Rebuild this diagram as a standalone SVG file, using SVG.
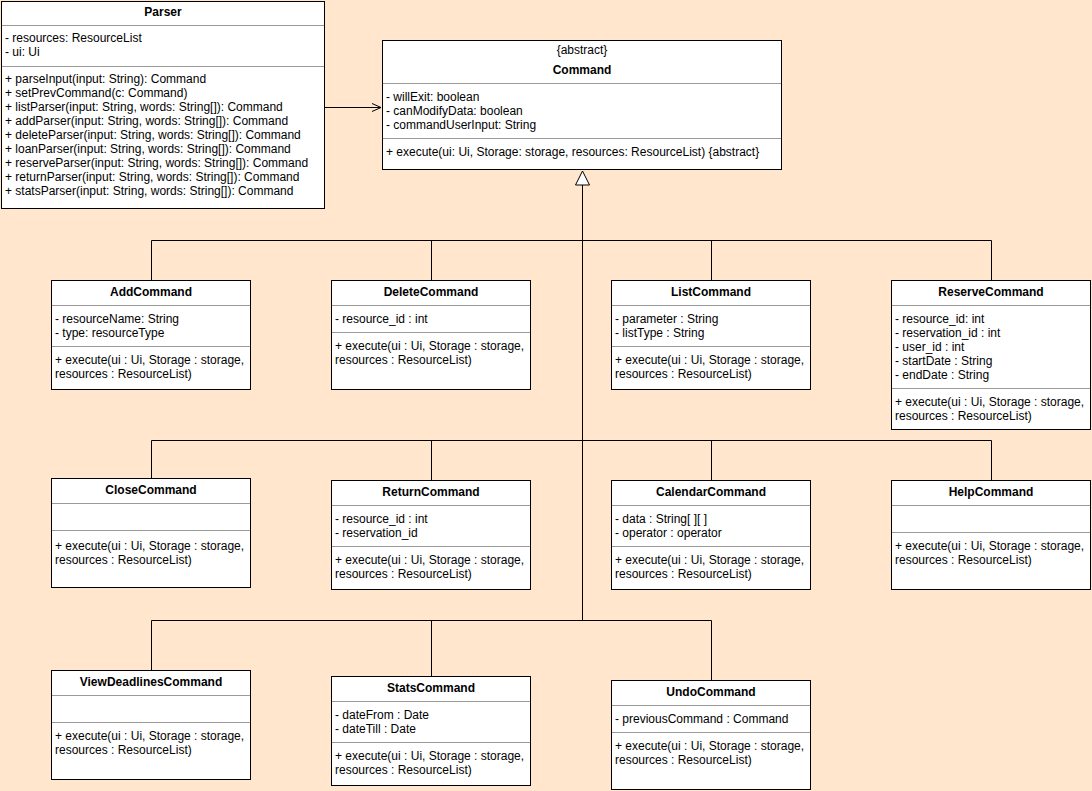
<svg xmlns="http://www.w3.org/2000/svg" width="1092" height="791" viewBox="0 0 1092 791">
<defs>
<style>
.bx{fill:#fff;stroke:#000;stroke-width:1}
.sep{stroke:#9a9a9a;stroke-width:1}
text{font-family:"Liberation Sans",Arial,Helvetica,sans-serif;font-size:12px;fill:#000}
.t{font-weight:bold;text-anchor:middle}
.c{text-anchor:middle}
.ln{fill:none;stroke:#000;stroke-width:1}
</style>
<marker id="open" markerWidth="12" markerHeight="10" refX="10" refY="5" orient="auto" markerUnits="userSpaceOnUse">
<path d="M1,1 L10,5 L1,9" fill="none" stroke="#000" stroke-width="1"/>
</marker>
</defs>
<rect x="0" y="0" width="1092" height="791" fill="#FFE6CC"/>

<g id="connectors">
<line class="ln" x1="325" y1="107.5" x2="381" y2="107.5" marker-end="url(#open)"/>
<path class="ln" d="M582.5,185 V620"/>
<path d="M582.5,171 L589.5,185 L575.5,185 Z" fill="#fff" stroke="#000" stroke-width="1"/>
<path class="ln" d="M151.5,280 V240.5 H991.5 V280 M431.5,240.5 V280 M711.5,240.5 V280"/>
<path class="ln" d="M151.5,478 V440.5 H991.5 V480 M431.5,440.5 V480 M711.5,440.5 V480"/>
<path class="ln" d="M151.5,670 V620.5 H711.5 V680 M431.5,620.5 V676"/>
</g>

<g id="Parser">
<rect class="bx" x="1.5" y="1.5" width="323" height="207"/>
<text class="t" x="163" y="16">Parser</text>
<line class="sep" x1="2" y1="25.5" x2="324" y2="25.5"/>
<text x="5" y="42">- resources: ResourceList</text>
<text x="5" y="56">- ui: Ui</text>
<line class="sep" x1="2" y1="66.5" x2="324" y2="66.5"/>
<text x="5" y="83">+ parseInput(input: String): Command</text>
<text x="5" y="97">+ setPrevCommand(c: Command)</text>
<text x="5" y="111">+ listParser(input: String, words: String[]): Command</text>
<text x="5" y="125">+ addParser(input: String, words: String[]): Command</text>
<text x="5" y="139">+ deleteParser(input: String, words: String[]): Command</text>
<text x="5" y="153">+ loanParser(input: String, words: String[]): Command</text>
<text x="5" y="167">+ reserveParser(input: String, words: String[]): Command</text>
<text x="5" y="181">+ returnParser(input: String, words: String[]): Command</text>
<text x="5" y="195">+ statsParser(input: String, words: String[]): Command</text>
</g>

<g id="Command">
<rect class="bx" x="382.5" y="40.5" width="399" height="129"/>
<text class="c" x="582" y="54">{abstract}</text>
<text class="t" x="582" y="74">Command</text>
<line class="sep" x1="383" y1="83.5" x2="781" y2="83.5"/>
<text x="386" y="101">- willExit: boolean</text>
<text x="386" y="115">- canModifyData: boolean</text>
<text x="386" y="129">- commandUserInput: String</text>
<line class="sep" x1="383" y1="138.5" x2="781" y2="138.5"/>
<text x="386" y="156">+ execute(ui: Ui, Storage: storage, resources: ResourceList) {abstract}</text>
</g>

<g id="AddCommand">
<rect class="bx" x="51.5" y="280.5" width="199" height="109"/>
<text class="t" x="151" y="296">AddCommand</text>
<line class="sep" x1="52" y1="305.5" x2="250" y2="305.5"/>
<text x="55" y="323">- resourceName: String</text>
<text x="55" y="337">- type: resourceType</text>
<line class="sep" x1="52" y1="346.5" x2="250" y2="346.5"/>
<text x="55" y="364">+ execute(ui : Ui, Storage : storage,</text>
<text x="55" y="378">resources : ResourceList)</text>
</g>

<g id="DeleteCommand">
<rect class="bx" x="331.5" y="280.5" width="199" height="109"/>
<text class="t" x="431" y="296">DeleteCommand</text>
<line class="sep" x1="332" y1="305.5" x2="530" y2="305.5"/>
<text x="335" y="323">- resource_id : int</text>
<line class="sep" x1="332" y1="332.5" x2="530" y2="332.5"/>
<text x="335" y="350">+ execute(ui : Ui, Storage : storage,</text>
<text x="335" y="364">resources : ResourceList)</text>
</g>

<g id="ListCommand">
<rect class="bx" x="611.5" y="280.5" width="199" height="109"/>
<text class="t" x="711" y="296">ListCommand</text>
<line class="sep" x1="612" y1="305.5" x2="810" y2="305.5"/>
<text x="615" y="323">- parameter : String</text>
<text x="615" y="337">- listType : String</text>
<line class="sep" x1="612" y1="346.5" x2="810" y2="346.5"/>
<text x="615" y="364">+ execute(ui : Ui, Storage : storage,</text>
<text x="615" y="378">resources : ResourceList)</text>
</g>

<g id="ReserveCommand">
<rect class="bx" x="891.5" y="280.5" width="199" height="149"/>
<text class="t" x="991" y="296">ReserveCommand</text>
<line class="sep" x1="892" y1="305.5" x2="1090" y2="305.5"/>
<text x="895" y="323">- resource_id: int</text>
<text x="895" y="337">- reservation_id : int</text>
<text x="895" y="351">- user_id : int</text>
<text x="895" y="365">- startDate : String</text>
<text x="895" y="379">- endDate : String</text>
<line class="sep" x1="892" y1="388.5" x2="1090" y2="388.5"/>
<text x="895" y="406">+ execute(ui : Ui, Storage : storage,</text>
<text x="895" y="420">resources : ResourceList)</text>
</g>

<g id="CloseCommand">
<rect class="bx" x="51.5" y="478.5" width="199" height="109"/>
<text class="t" x="151" y="494">CloseCommand</text>
<line class="sep" x1="52" y1="503.5" x2="250" y2="503.5"/>
<line class="sep" x1="52" y1="530.5" x2="250" y2="530.5"/>
<text x="55" y="550">+ execute(ui : Ui, Storage : storage,</text>
<text x="55" y="564">resources : ResourceList)</text>
</g>

<g id="ReturnCommand">
<rect class="bx" x="331.5" y="480.5" width="199" height="109"/>
<text class="t" x="431" y="496">ReturnCommand</text>
<line class="sep" x1="332" y1="505.5" x2="530" y2="505.5"/>
<text x="335" y="523">- resource_id : int</text>
<text x="335" y="537">- reservation_id</text>
<line class="sep" x1="332" y1="546.5" x2="530" y2="546.5"/>
<text x="335" y="564">+ execute(ui : Ui, Storage : storage,</text>
<text x="335" y="578">resources : ResourceList)</text>
</g>

<g id="CalendarCommand">
<rect class="bx" x="611.5" y="480.5" width="199" height="109"/>
<text class="t" x="711" y="496">CalendarCommand</text>
<line class="sep" x1="612" y1="505.5" x2="810" y2="505.5"/>
<text x="615" y="523">- data : String[ ][ ]</text>
<text x="615" y="537">- operator : operator</text>
<line class="sep" x1="612" y1="546.5" x2="810" y2="546.5"/>
<text x="615" y="564">+ execute(ui : Ui, Storage : storage,</text>
<text x="615" y="578">resources : ResourceList)</text>
</g>

<g id="HelpCommand">
<rect class="bx" x="891.5" y="480.5" width="199" height="109"/>
<text class="t" x="991" y="496">HelpCommand</text>
<line class="sep" x1="892" y1="505.5" x2="1090" y2="505.5"/>
<line class="sep" x1="892" y1="532.5" x2="1090" y2="532.5"/>
<text x="895" y="550">+ execute(ui : Ui, Storage : storage,</text>
<text x="895" y="564">resources : ResourceList)</text>
</g>

<g id="ViewDeadlinesCommand">
<rect class="bx" x="51.5" y="670.5" width="199" height="109"/>
<text class="t" x="151" y="686">ViewDeadlinesCommand</text>
<line class="sep" x1="52" y1="695.5" x2="250" y2="695.5"/>
<line class="sep" x1="52" y1="722.5" x2="250" y2="722.5"/>
<text x="55" y="740">+ execute(ui : Ui, Storage : storage,</text>
<text x="55" y="754">resources : ResourceList)</text>
</g>

<g id="StatsCommand">
<rect class="bx" x="331.5" y="676.5" width="199" height="109"/>
<text class="t" x="431" y="692">StatsCommand</text>
<line class="sep" x1="332" y1="701.5" x2="530" y2="701.5"/>
<text x="335" y="719">- dateFrom : Date</text>
<text x="335" y="733">- dateTill : Date</text>
<line class="sep" x1="332" y1="742.5" x2="530" y2="742.5"/>
<text x="335" y="760">+ execute(ui : Ui, Storage : storage,</text>
<text x="335" y="774">resources : ResourceList)</text>
</g>

<g id="UndoCommand">
<rect class="bx" x="611.5" y="680.5" width="199" height="109"/>
<text class="t" x="711" y="696">UndoCommand</text>
<line class="sep" x1="612" y1="705.5" x2="810" y2="705.5"/>
<text x="615" y="723">- previousCommand : Command</text>
<line class="sep" x1="612" y1="732.5" x2="810" y2="732.5"/>
<text x="615" y="750">+ execute(ui : Ui, Storage : storage,</text>
<text x="615" y="764">resources : ResourceList)</text>
</g>
</svg>
